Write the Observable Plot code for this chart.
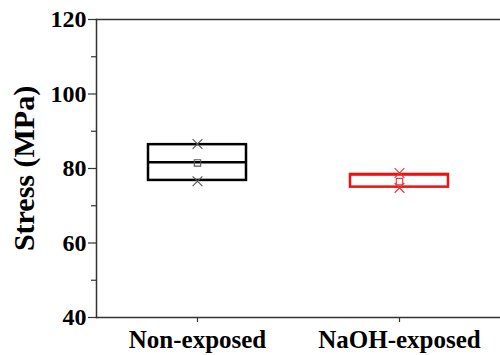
<!DOCTYPE html>
<html>
<head>
<meta charset="utf-8">
<script src="https://cdn.jsdelivr.net/npm/d3@7"></script>
<script src="https://cdn.jsdelivr.net/npm/@observablehq/plot@0.6"></script>
<style>
  html, body { margin: 0; padding: 0; background: #fff; }
</style>
</head>
<body>
<div id="chart"></div>
<script>
const categories = ["Non-exposed", "NaOH-exposed"];
const q1 = [76.8, 75.0];
const q3 = [86.4, 78.4];
const medians = [81.7, 78.4];
const means = [81.5, 76.5];
const mins = [76.6, 74.8];
const maxs = [86.6, 78.8];
const colors = ["#000000", "#ee1111"];
const markColors = ["#555555", "#ee3333"];
const majorTicks = [40, 60, 80, 100, 120];
const minorTicks = [50, 70, 90, 110];
const yLabel = "Stress (MPa)";

const rows = categories.map((c, i) => ({
  cat: c, q1: q1[i], q3: q3[i], med: medians[i], mean: means[i],
  min: mins[i], max: maxs[i], color: colors[i], mcolor: markColors[i]
}));
const extremes = rows.flatMap(r => [
  {cat: r.cat, v: r.min, mcolor: r.mcolor},
  {cat: r.cat, v: r.max, mcolor: r.mcolor}
]);

const font = "'Liberation Serif', 'Times New Roman', serif";
const plot = Plot.plot({
  width: 500,
  height: 355,
  marginLeft: 96,
  marginRight: 0,
  marginTop: 19,
  marginBottom: 38,
  style: {fontFamily: font, fontWeight: "bold", background: "#fff", color: "#000"},
  x: {type: "band", domain: categories, paddingInner: 0.515, paddingOuter: 0.2575, axis: null},
  y: {domain: [40, 120], axis: null},
  marks: [
    Plot.frame({anchor: "left", stroke: "#333", strokeWidth: 1.5}),
    Plot.frame({anchor: "bottom", stroke: "#333", strokeWidth: 1.5}),
    Plot.frame({anchor: "top", stroke: "#333", strokeWidth: 1.5}),
    Plot.axisY({ticks: majorTicks, tickSize: 8, tickPadding: 2, fontSize: 24, stroke: "#333", strokeWidth: 1.2, fill: "#000"}),
    Plot.axisY({ticks: minorTicks, tickSize: 5, tickFormat: () => "", stroke: "#333", strokeWidth: 1.2}),
    Plot.axisX({tickSize: 5, tickPadding: 8, fontSize: 25, stroke: "#333", strokeWidth: 1.2, fill: "#000", label: null}),
    Plot.barY(rows, {x: "cat", y1: "q1", y2: "q3", fill: "none", stroke: "color", strokeWidth: 2.5}),
    Plot.tickY(rows, {x: "cat", y: "med", stroke: "color", strokeWidth: 2.5}),
    Plot.dot(rows, {x: "cat", y: "mean", symbol: "square", r: 3.6, stroke: "mcolor", strokeWidth: 1.1, fill: "none"}),
    Plot.dot(extremes, {x: "cat", y: "v", symbol: "times", r: 4.5, stroke: "mcolor", strokeWidth: 1.1}),
    Plot.text([yLabel], {frameAnchor: "left", textAnchor: "middle", lineAnchor: "middle", dx: -72, rotate: -90, fontSize: 30, fontWeight: "bold", fill: "#000"})
  ]
});
document.getElementById("chart").appendChild(plot);
</script>
</body>
</html>
